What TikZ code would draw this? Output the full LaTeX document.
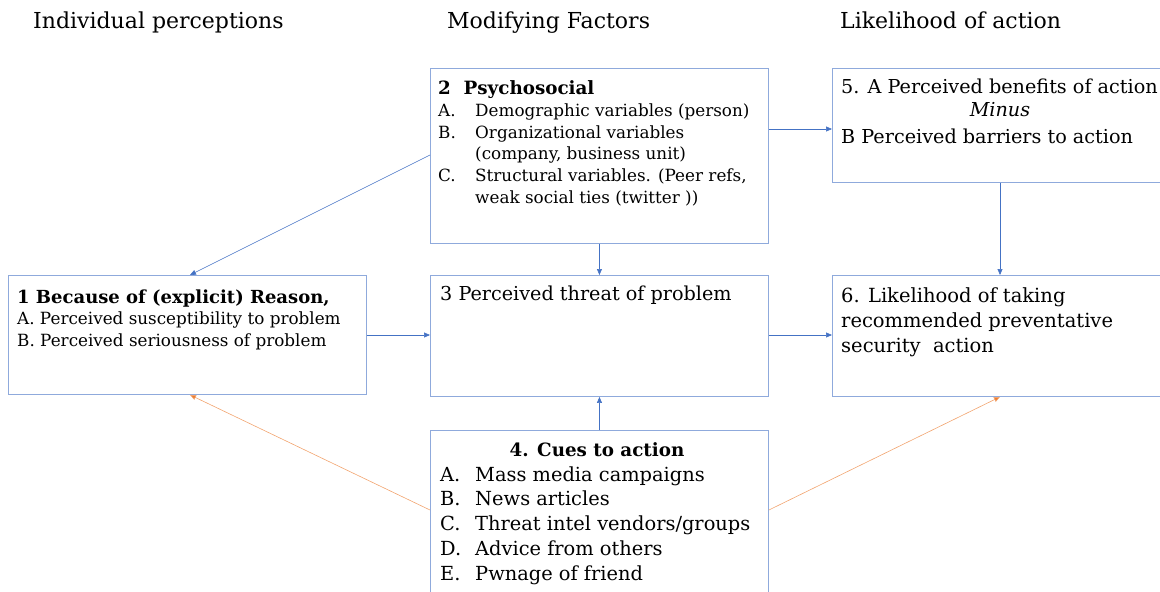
\documentclass[tikz,border=0pt]{standalone}
\usepackage{fontspec}
\setmainfont{DejaVu Serif}
\usetikzlibrary{arrows.meta}
\definecolor{boxblue}{RGB}{143,170,220}
\definecolor{arrblue}{RGB}{68,114,196}
\definecolor{arrorange}{RGB}{237,125,49}
\tikzset{
  box/.style={draw=boxblue, line width=0.9pt, anchor=north west, inner sep=0pt},
  txt/.style={anchor=base west, inner sep=0pt, font=\fontsize{16.8}{20}\selectfont},
  big/.style={font=\fontsize{19.2}{22}\selectfont},
  hdr/.style={anchor=base west, inner sep=0pt, font=\fontsize{22}{26}\selectfont},
  barrow/.style={draw=arrblue, line width=0.6pt, -{Triangle[length=6pt,width=5pt]}},
  oarrow/.style={draw=arrorange!70, line width=0.6pt, -{Triangle[length=6pt,width=5pt,fill=arrorange]}},
}
\begin{document}
\begin{tikzpicture}[x=1pt,y=-1pt]
\useasboundingbox (0,0) rectangle (1160,592);
\clip (0,0) rectangle (1160,592);
% headers
\node[hdr] (h1) at (33,28) {Individual perceptions};
\node[hdr] (h2) at (447,28) {Modifying Factors};
\node[hdr] (h3) at (840,28) {Likelihood of action};
% boxes
\node[box, minimum width=338pt, minimum height=175pt] (b2) at (430,68) {};
\node[box, minimum width=340pt, minimum height=114pt] (b5) at (832,68) {};
\node[box, minimum width=358pt, minimum height=119pt] (b1) at (8,275) {};
\node[box, minimum width=338pt, minimum height=121pt] (b3) at (430,275) {};
\node[box, minimum width=340pt, minimum height=121pt] (b6) at (832,275) {};
\node[box, minimum width=338pt, minimum height=175pt] (b4) at (430,430) {};
% box 2 text
\node[txt, font=\fontsize{18.3}{20}\selectfont\bfseries] (t2) at (438,94) {2\ \ Psychosocial};
\node[txt] (t2a) at (438,116) {A.};
\node[txt] (t2at) at (475,116) {Demographic variables (person)};
\node[txt] (t2b) at (438,138) {B.};
\node[txt] (t2bt) at (475,138) {Organizational variables};
\node[txt] (t2bu) at (475,159) {(company, business unit)};
\node[txt] (t2c) at (438,181) {C.};
\node[txt] (t2ct) at (475,181) {Structural variables. (Peer refs,};
\node[txt] (t2cu) at (475,203) {weak social ties (twitter ))};
% box 1 text
\node[txt, font=\fontsize{18}{20}\selectfont\bfseries] (t1) at (17,303) {1 Because of (explicit) Reason,};
\node[txt] (t1a) at (17,324) {A. Perceived susceptibility to problem};
\node[txt] (t1b) at (17,346) {B. Perceived seriousness of problem};
% box 5 text
\node[txt, big] (t5a) at (841,93) {5. A Perceived benefits of action};
\node[anchor=base, inner sep=0pt, font=\fontsize{19.2}{22}\selectfont\itshape] (t5m) at (1000,116) {Minus};
\node[txt, big] (t5b) at (841,143) {B Perceived barriers to action};
% box 3 text
\node[txt, big] (t3) at (440,300) {3 Perceived threat of problem};
% box 6 text
\node[txt, font=\fontsize{19.5}{22}\selectfont] (t6a) at (841,302) {6. Likelihood of taking};
\node[txt, font=\fontsize{19.5}{22}\selectfont] (t6b) at (841,327) {recommended preventative};
\node[txt, font=\fontsize{19.5}{22}\selectfont] (t6c) at (841,352) {security\ \ action};
% box 4 text
\node[anchor=base, inner sep=0pt, font=\fontsize{18.3}{22}\selectfont\bfseries] (t4) at (597,456) {4. Cues to action};
\foreach \l/\t/\y [count=\i] in {A./Mass media campaigns/481, B./News articles/505, C./Threat intel vendors\slash groups/530, D./Advice from others/555, E./Pwnage of friend/580}{
  \node[txt, font=\fontsize{19.4}{22}\selectfont] (t4l\i) at (440,\y) {\l};
  \node[txt, font=\fontsize{19.4}{22}\selectfont] (t4t\i) at (475,\y) {\t};
}
% arrows
\draw[barrow] (b2.west |- 0,155) -- (b1.north -| 190,0);
\draw[barrow] (b2.south) -- (b3.north);
\draw[barrow] (b2.east |- 0,129) -- (b5.west |- 0,129);
\draw[barrow] (b5.south -| 1000,0) -- (b6.north -| 1000,0);
\draw[barrow] (b1.east |- 0,335) -- (b3.west |- 0,335);
\draw[barrow] (b3.east |- 0,335) -- (b6.west |- 0,335);
\draw[barrow] (b4.north) -- (b3.south);
\draw[oarrow] (b4.west |- 0,510) -- (b1.south -| 190,0);
\draw[oarrow] (b4.east |- 0,510) -- (b6.south -| 1000,0);
\end{tikzpicture}
\end{document}
